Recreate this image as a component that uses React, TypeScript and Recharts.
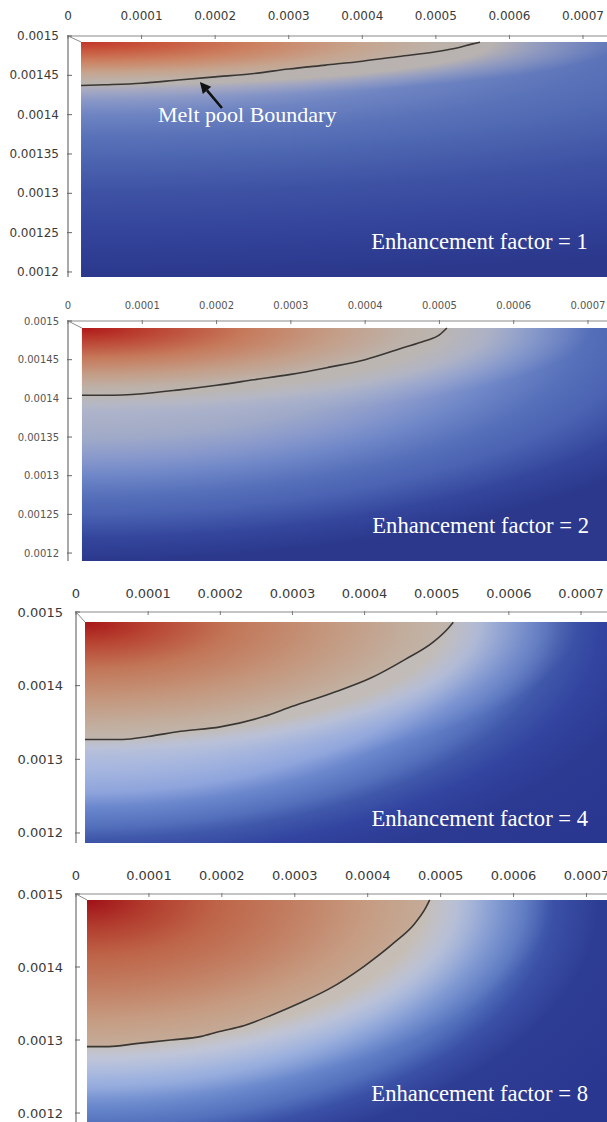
import React from 'react';
import { ComposedChart, XAxis, YAxis, Area, ReferenceArea, ReferenceLine, ReferenceDot } from 'recharts';

// ---------- tick values / labels ----------
const xTickValues = [0, 0.0001, 0.0002, 0.0003, 0.0004, 0.0005, 0.0006, 0.0007];
const xTickLabels = ['0', '0.0001', '0.0002', '0.0003', '0.0004', '0.0005', '0.0006', '0.0007'];
const yTickValuesFine = [0.0012, 0.00125, 0.0013, 0.00135, 0.0014, 0.00145, 0.0015];
const yTickLabelsFine = ['0.0012', '0.00125', '0.0013', '0.00135', '0.0014', '0.00145', '0.0015'];
const yTickValuesCoarse = [0.0012, 0.0013, 0.0014, 0.0015];
const yTickLabelsCoarse = ['0.0012', '0.0013', '0.0014', '0.0015'];

// ---------- panel captions ----------
const enhancementFactors = [1, 2, 4, 8];
const annotationText = 'Melt pool Boundary';

// ---------- melt pool boundary (contour) per panel ----------
const boundaryX1 = [0.0000177, 0.00005, 0.0001, 0.00015, 0.0002, 0.00025, 0.0003, 0.00035, 0.0004, 0.00045, 0.0005, 0.00053, 0.00055, 0.00056];
const boundaryY1 = [0.001437, 0.001438, 0.00144, 0.001444, 0.001448, 0.001452, 0.001458, 0.001463, 0.001468, 0.001474, 0.00148, 0.001485, 0.00149, 0.001492];

const boundaryX2 = [0.0000188, 0.00005, 0.0001, 0.00015, 0.0002, 0.00025, 0.0003, 0.00035, 0.0004, 0.00045, 0.00048, 0.0005, 0.00051];
const boundaryY2 = [0.001404, 0.001404, 0.001406, 0.001411, 0.001417, 0.001424, 0.001431, 0.00144, 0.00145, 0.001465, 0.001474, 0.001482, 0.001491];

const boundaryX4 = [0.0000125, 0.000065, 0.0001, 0.000145, 0.0002, 0.00026, 0.0003, 0.000355, 0.00041, 0.000457, 0.000495, 0.000516, 0.000523];
const boundaryY4 = [0.001327, 0.001327, 0.001331, 0.001338, 0.001344, 0.001358, 0.001372, 0.00139, 0.001411, 0.001436, 0.001459, 0.001478, 0.001486];

const boundaryX8 = [0.0000151, 0.000045, 0.000082, 0.00013, 0.000172, 0.000194, 0.000231, 0.000268, 0.00031, 0.000347, 0.000395, 0.000437, 0.000464, 0.00048, 0.000485];
const boundaryY8 = [0.001291, 0.001291, 0.001295, 0.0013, 0.001305, 0.001311, 0.00132, 0.001334, 0.001352, 0.00137, 0.001401, 0.001434, 0.001459, 0.001482, 0.001492];

// annotation arrow (tail -> head) in panel 1 data units
const arrowTail = { x: 0.0002092, y: 0.0014085 };
const arrowHead = { x: 0.0001793, y: 0.0014415 };
const annotationAnchor = { x: 0.0001223, y: 0.0013907 };

type Stop = [number, string, number?];

const panels = [
  {
    xs: boundaryX1, ys: boundaryY1, factor: enhancementFactors[0],
    top: 0, height: 277, axisX: 68, plotTop: 36,
    xMax: 0.0007326, yMin: 0.0011936, colorLeft: 0.0000177, colorTop: 0.0014924,
    xGap: 20, yGap: 9, fontSize: 12, tickColor: '#3a3a3a',
    yTicks: yTickValuesFine, yLabels: yTickLabelsFine,
    textX: 0.0007065, textY: 0.0012292,
    bg: { sx: 2.55, sy: 1.0, stops: [[0, '#b4b0b8'], [0.2, '#a4a8c4'], [0.26, '#8494c6'], [0.31, '#6e84c2'], [0.4, '#5a72b8'], [0.48, '#4f68b2'], [0.64, '#3e52a4'], [0.81, '#33449a'], [1, '#2b388c']] as Stop[] },
    halo: { sx: 1.03, sy: 0.24, stops: [[0, '#bcb4ae', 1], [0.76, '#b8b2b0', 1], [0.86, '#a8aac0', 0.6], [1, '#9aa2c4', 0]] as Stop[] },
    pool: [[0, '#c2352a'], [0.2, '#c8583e'], [0.45, '#cc8262'], [0.7, '#c6a48e'], [0.9, '#bcb2aa'], [1, '#b8b2ae']] as Stop[],
    annotate: true,
  },
  {
    xs: boundaryX2, ys: boundaryY2, factor: enhancementFactors[1],
    top: 277, height: 284, axisX: 68, plotTop: 44,
    xMax: 0.0007256, yMin: 0.0011897, colorLeft: 0.0000188, colorTop: 0.0014909,
    xGap: 16, yGap: 9, fontSize: 10, tickColor: '#555555',
    yTicks: yTickValuesFine, yLabels: yTickLabelsFine,
    textX: 0.0007013, textY: 0.0012259,
    bg: { sx: 1.33, sy: 1.0, stops: [[0, '#b8bac8'], [0.35, '#b0b4c6'], [0.47, '#a0aac8'], [0.56, '#8898cc'], [0.63, '#7088c8'], [0.72, '#5670ba'], [0.8, '#4a62b2'], [0.9, '#34469c'], [1, '#2b388c']] as Stop[] },
    halo: { sx: 0.97, sy: 0.41, stops: [[0, '#bfb5ae', 1], [0.7, '#bcb6b2', 1], [0.8, '#b6b8c4', 0.8], [0.9, '#a8b2d0', 0.4], [1, '#a0acd0', 0]] as Stop[] },
    pool: [[0, '#b01818'], [0.2, '#bc4434'], [0.45, '#c67a5c'], [0.7, '#c49e88'], [0.9, '#bdb2aa'], [1, '#bab4b0']] as Stop[],
    annotate: false,
  },
  {
    xs: boundaryX4, ys: boundaryY4, factor: enhancementFactors[2],
    top: 561, height: 282, axisX: 76, plotTop: 51,
    xMax: 0.000736, yMin: 0.0011864, colorLeft: 0.0000125, colorTop: 0.0014864,
    xGap: 19, yGap: 13, fontSize: 13, tickColor: '#3a3a3a',
    yTicks: yTickValuesCoarse, yLabels: yTickLabelsCoarse,
    textX: 0.0007097, textY: 0.0012095,
    bg: { sx: 1.3, sy: 1.4, stops: [[0, '#c0c6dc'], [0.45, '#b0bde0'], [0.55, '#8ea4dc'], [0.6, '#6a86cc'], [0.66, '#5470bc'], [0.7, '#4058aa'], [0.76, '#3244a0'], [0.85, '#2c3a92'], [1, '#2a3790']] as Stop[] },
    halo: { sx: 0.945, sy: 0.716, stops: [[0, '#c2b6ae', 1], [0.73, '#c2bcb8', 1], [0.8, '#bcc2d6', 0.8], [0.9, '#a4b4dc', 0.35], [1, '#9ab0e0', 0]] as Stop[] },
    pool: [[0, '#a81618'], [0.18, '#b84432'], [0.4, '#c27658'], [0.65, '#c4967c'], [0.88, '#c2ae9e'], [1, '#c0b6ae']] as Stop[],
    annotate: false,
  },
  {
    xs: boundaryX8, ys: boundaryY8, factor: enhancementFactors[3],
    top: 843, height: 279, axisX: 76, plotTop: 51,
    xMax: 0.0007281, yMin: 0.0011877, colorLeft: 0.0000151, colorTop: 0.0014918,
    xGap: 19, yGap: 13, fontSize: 13, tickColor: '#3a3a3a',
    yTicks: yTickValuesCoarse, yLabels: yTickLabelsCoarse,
    textX: 0.000702, textY: 0.0012164,
    bg: { sx: 1.2, sy: 1.45, stops: [[0, '#c4c8dc'], [0.5, '#b4c0e0'], [0.58, '#90a8dc'], [0.64, '#6a88cc'], [0.7, '#5270bc'], [0.75, '#3a50a6'], [0.82, '#2e3d94'], [1, '#2a3790']] as Stop[] },
    halo: { sx: 0.89, sy: 0.89, stops: [[0, '#c4b0a0', 1], [0.73, '#c6beb6', 1], [0.8, '#c2c6d6', 0.8], [0.9, '#acbce0', 0.35], [1, '#a0b4e0', 0]] as Stop[] },
    pool: [[0, '#a01018'], [0.18, '#b23c2e'], [0.38, '#be6448'], [0.6, '#c27e62'], [0.82, '#c69c82'], [1, '#c4ac9a']] as Stop[],
    annotate: false,
  },
];

const stopsToSvg = (stops: Stop[]) =>
  stops.map((s, i) => <stop key={i} offset={s[0]} stopColor={s[1]} stopOpacity={s[2] === undefined ? 1 : s[2]} />);

const Arrow = (props: any) => {
  const { x1, y1, x2, y2 } = props;
  const ang = Math.atan2(y2 - y1, x2 - x1);
  const L = 11;
  const W = 5.5;
  const bx = x2 - L * Math.cos(ang);
  const by = y2 - L * Math.sin(ang);
  const px = -Math.sin(ang) * W;
  const py = Math.cos(ang) * W;
  return (
    <g>
      <line x1={x1} y1={y1} x2={bx} y2={by} stroke="#111" strokeWidth={2.6} />
      <polygon points={`${x2},${y2} ${bx + px},${by + py} ${bx - px},${by - py}`} fill="#111" />
    </g>
  );
};

function Panel({ p, idx }: { p: (typeof panels)[number]; idx: number }) {
  const rows = p.xs.map((x, i) => ({ x, y: p.ys[i] }));
  const bgId = `bg${idx}`;
  const haloId = `halo${idx}`;
  const poolId = `pool${idx}`;

  const xTick = (props: any) => {
    const { x, y, payload } = props;
    const i = xTickValues.indexOf(payload.value);
    return (
      <g>
        <text x={x} y={y} textAnchor="middle" dominantBaseline="central" fontSize={p.fontSize} fill={p.tickColor} fontFamily="DejaVu Sans">
          {xTickLabels[i]}
        </text>
        <line x1={x} x2={x} y1={y + p.xGap - 1} y2={y + p.xGap + 3} stroke="#777" strokeWidth={1} />
      </g>
    );
  };
  const yTick = (props: any) => {
    const { x, y, payload } = props;
    const i = p.yTicks.indexOf(payload.value);
    return (
      <g>
        <text x={x} y={y} textAnchor="end" dominantBaseline="central" fontSize={p.fontSize} fill={p.tickColor} fontFamily="DejaVu Sans">
          {p.yLabels[i]}
        </text>
        <line x1={x + p.yGap - 1} x2={x + p.yGap + 4} y1={y} y2={y} stroke="#666" strokeWidth={1} />
      </g>
    );
  };

  return (
    <div style={{ position: 'absolute', left: 0, top: p.top, width: 607, height: p.height }}>
      <ComposedChart width={607} height={p.height} data={rows} margin={{ top: 0, right: 0, bottom: 0, left: 0 }}>
        <defs>
          <radialGradient id={bgId} cx={0} cy={0} r={1} gradientUnits="objectBoundingBox" gradientTransform={`scale(${p.bg.sx} ${p.bg.sy})`}>
            {stopsToSvg(p.bg.stops)}
          </radialGradient>
          <radialGradient id={haloId} cx={0} cy={0} r={1} gradientUnits="objectBoundingBox" gradientTransform={`scale(${p.halo.sx} ${p.halo.sy})`}>
            {stopsToSvg(p.halo.stops)}
          </radialGradient>
          <radialGradient id={poolId} cx={0} cy={0} r={1} gradientUnits="objectBoundingBox">
            {stopsToSvg(p.pool)}
          </radialGradient>
        </defs>
        <XAxis
          xAxisId={0}
          dataKey="x"
          type="number"
          orientation="top"
          domain={[0, p.xMax]}
          ticks={xTickValues}
          interval={0}
          allowDataOverflow
          height={p.plotTop}
          tickSize={0}
          tickLine={false}
          tickMargin={p.xGap}
          axisLine={{ stroke: '#8a8a8a', strokeWidth: 1.2 }}
          tick={xTick}
        />
        <YAxis
          yAxisId={0}
          type="number"
          domain={[p.yMin, 0.0015]}
          ticks={p.yTicks}
          interval={0}
          allowDataOverflow
          width={p.axisX}
          tickSize={0}
          tickLine={false}
          tickMargin={p.yGap}
          axisLine={{ stroke: '#555', strokeWidth: 1 }}
          tick={yTick}
        />
        <ReferenceArea
          x1={p.colorLeft}
          x2={p.xMax}
          y1={p.yMin}
          y2={p.colorTop}
          fill={`url(#${bgId})`}
          fillOpacity={1}
          stroke="none"
          ifOverflow="visible"
        />
        <ReferenceArea
          x1={p.colorLeft}
          x2={p.xMax}
          y1={p.yMin}
          y2={p.colorTop}
          fill={`url(#${haloId})`}
          fillOpacity={1}
          stroke="none"
          ifOverflow="visible"
        />
        <Area
          dataKey="y"
          type="monotone"
          baseValue={p.colorTop}
          fill={`url(#${poolId})`}
          fillOpacity={1}
          stroke="#3a3632"
          strokeWidth={1.6}
          dot={false}
          activeDot={false}
          isAnimationActive={false}
        />
        <ReferenceLine
          segment={[{ x: 0, y: 0.0015 }, { x: p.colorLeft, y: p.colorTop }]}
          stroke="#8a8a8a"
          strokeWidth={1}
          ifOverflow="visible"
        />
        <ReferenceDot
          x={p.textX}
          y={p.textY}
          r={1}
          ifOverflow="visible"
          shape={(sp: any) => (
            <text x={sp.cx} y={sp.cy} textAnchor="end" fontSize={22.6} fill="#ffffff" fontFamily="Liberation Serif">
              {`Enhancement factor = ${p.factor}`}
            </text>
          )}
        />
        {p.annotate && (
          <ReferenceDot
            x={annotationAnchor.x}
            y={annotationAnchor.y}
            r={1}
            ifOverflow="visible"
            shape={(sp: any) => (
              <text x={sp.cx} y={sp.cy} textAnchor="start" fontSize={22} fill="#ffffff" fontFamily="Liberation Serif">
                {annotationText}
              </text>
            )}
          />
        )}
        {p.annotate && (
          <ReferenceLine segment={[arrowTail, arrowHead]} ifOverflow="visible" shape={Arrow} />
        )}
      </ComposedChart>
    </div>
  );
}

export default function App() {
  return (
    <div style={{ position: 'absolute', left: 0, top: 0, width: 607, height: 1122, background: '#ffffff', overflow: 'hidden' }}>
      <style>{`.recharts-surface { overflow: visible; } .recharts-wrapper { overflow: visible; }`}</style>
      {panels.map((p, i) => (
        <Panel key={i} p={p} idx={i} />
      ))}
    </div>
  );
}
